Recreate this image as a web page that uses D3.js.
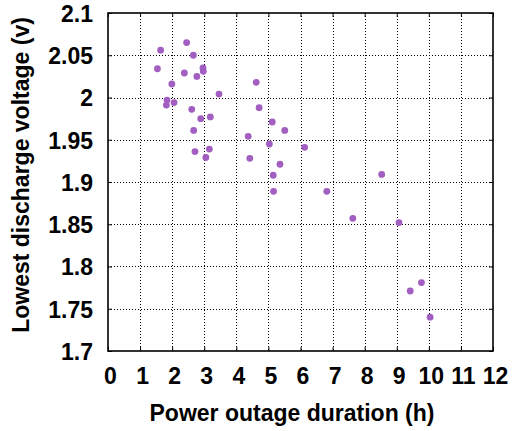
<!DOCTYPE html>
<meta charset="utf-8">
<style>
  body { margin: 0; background: #fff; }
  text { font-family: "Liberation Sans", Arial, sans-serif; font-weight: bold; fill: #000; }
</style>
<svg width="512" height="431"></svg>
<script src="https://d3js.org/d3.v7.min.js"></script>
<script>
    // outage duration (h) and lowest discharge voltage (v)
    var hours = [1.64, 2.45, 2.66, 1.54, 2.38, 2.96, 2.97, 2.77, 1.99, 4.62,
                 3.46, 1.84, 1.82, 2.06, 4.71, 2.61, 2.89, 3.19, 5.12, 5.51,
                 2.67, 4.37, 5.03, 2.71, 3.16, 3.05, 4.42, 5.36, 5.15, 5.16,
                 6.13, 8.53, 6.82, 7.63, 9.07, 9.77, 9.42, 10.04];
    var volts = [2.056, 2.065, 2.050, 2.034, 2.029, 2.035, 2.031, 2.025, 2.016, 2.018,
                 2.004, 1.997, 1.991, 1.994, 1.988, 1.986, 1.975, 1.977, 1.971, 1.961,
                 1.961, 1.954, 1.945, 1.936, 1.939, 1.929, 1.928, 1.921, 1.908, 1.889,
                 1.941, 1.909, 1.889, 1.857, 1.852, 1.781, 1.771, 1.740];
    var xTicks = d3.range(0, 13, 1);
    var yTicks = [1.7, 1.75, 1.8, 1.85, 1.9, 1.95, 2, 2.05, 2.1];

    var svg = d3.select("svg");
    var pLeft = 108, pRight = 493, pTop = 13, pBottom = 351;

    var x = d3.scaleLinear().domain([0, 12]).range([pLeft, pRight]);
    var y = d3.scaleLinear().domain([1.7, 2.1]).range([pBottom, pTop]);

    //grid, dotted
    var grid = svg.append("g").attr("class", "grid");
    grid.selectAll("line.gx")
        .data(xTicks.slice(1, -1))
        .enter().append("line")
            .attr("x1", function(d){ return Math.round(x(d)) + 0.5; })
            .attr("x2", function(d){ return Math.round(x(d)) + 0.5; })
            .attr("y1", pTop).attr("y2", pBottom)
            .style("stroke", "#000").style("stroke-width", 1)
            .style("stroke-dasharray", "1,2");
    grid.selectAll("line.gy")
        .data(yTicks.slice(1, -1))
        .enter().append("line")
            .attr("y1", function(d){ return Math.round(y(d)) + 0.5; })
            .attr("y2", function(d){ return Math.round(y(d)) + 0.5; })
            .attr("x1", pLeft).attr("x2", pRight)
            .style("stroke", "#000").style("stroke-width", 1)
            .style("stroke-dasharray", "1,2");

    //axes, ticks pointing inward
    var xAxis = svg.append("g")
        .attr("transform", "translate(0," + pBottom + ")")
        .call(d3.axisBottom(x).tickValues(xTicks).tickSizeInner(-4).tickSizeOuter(0));
    var yAxis = svg.append("g")
        .attr("transform", "translate(" + pLeft + ",0)")
        .call(d3.axisLeft(y).tickValues(yTicks).tickSizeInner(-4).tickSizeOuter(0).tickPadding(15)
            .tickFormat(function(d){ return d3.format("")(+d.toFixed(2)); }));
    svg.append("g")
        .attr("transform", "translate(0," + pTop + ")")
        .call(d3.axisTop(x).tickValues(xTicks).tickSizeInner(-4).tickSizeOuter(0).tickFormat(""));
    svg.append("g")
        .attr("transform", "translate(" + pRight + ",0)")
        .call(d3.axisRight(y).tickValues(yTicks).tickSizeInner(-4).tickSizeOuter(0).tickFormat(""));

    svg.selectAll(".domain").remove();
    svg.selectAll(".tick line").style("stroke", "#000");
    xAxis.selectAll("text")
        .style("font-size", "23px")
        .attr("x", 2).attr("y", 33).attr("dy", 0);
    yAxis.selectAll("text")
        .style("font-size", "23px")
        .attr("dy", "0.36em");

    //frame
    svg.append("rect")
        .attr("x", pLeft).attr("y", pTop)
        .attr("width", pRight - pLeft).attr("height", pBottom - pTop)
        .style("fill", "none").style("stroke", "#000").style("stroke-width", 1.6);

    //points
    svg.append("g").selectAll("circle")
        .data(hours)
        .enter().append("circle")
            .attr("cx", function(d){ return x(d); })
            .attr("cy", function(d, i){ return y(volts[i]); })
            .attr("r", 3.4)
            .style("fill", "#a25ec0");

    //axis titles
    svg.append("text")
        .attr("x", 292).attr("y", 421)
        .attr("text-anchor", "middle")
        .style("font-size", "23px")
        .text("Power outage duration (h)");
    svg.append("text")
        .attr("transform", "translate(29,175) rotate(-90)")
        .attr("text-anchor", "middle")
        .style("font-size", "23px")
        .text("Lowest discharge voltage (v)");
</script>
